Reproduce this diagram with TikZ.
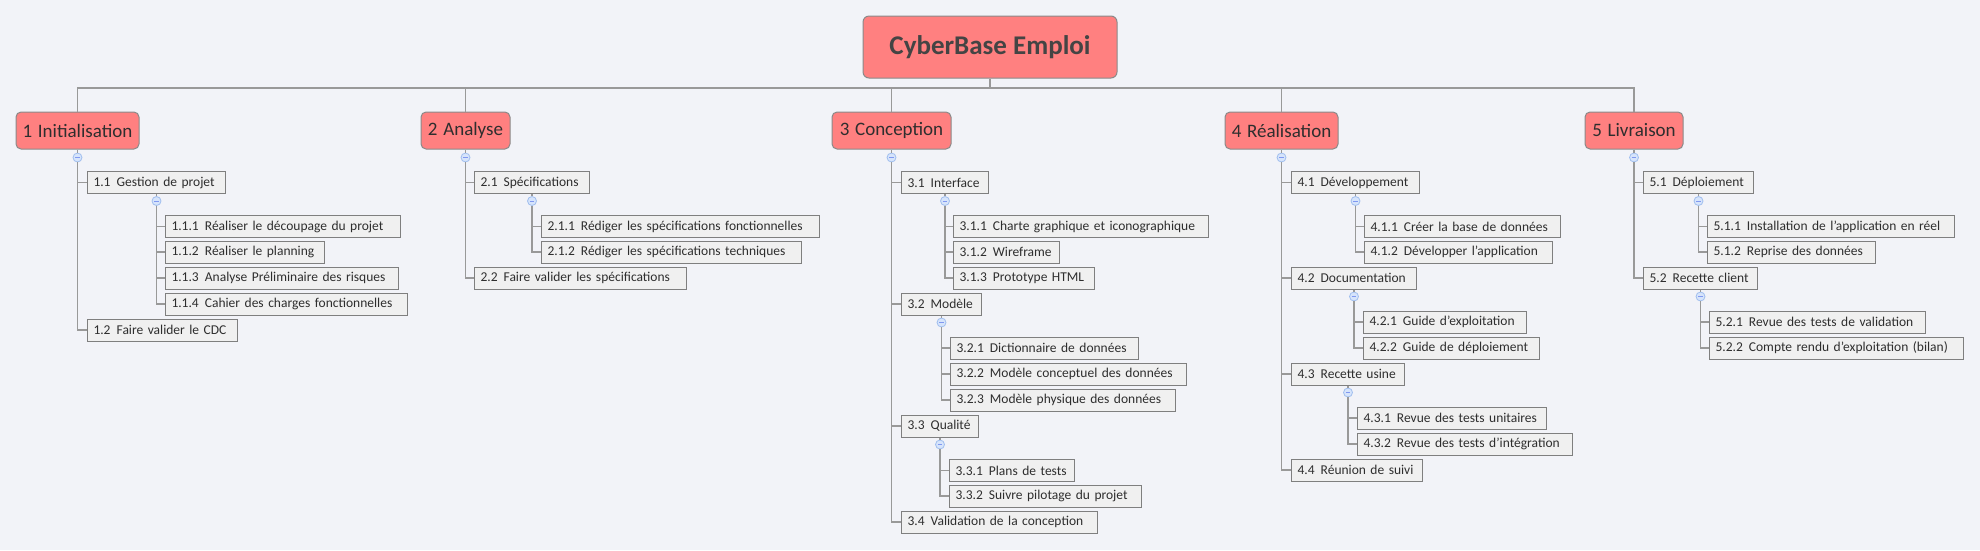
\documentclass[tikz,border=0pt]{standalone}
\usepackage{fontspec}
\setmainfont{Carlito}
\definecolor{bg}{HTML}{F2F3F8}
\definecolor{mainfill}{HTML}{FF8080}
\definecolor{mainborder}{HTML}{8A8A8A}
\definecolor{subfill}{HTML}{F0F0F0}
\definecolor{subborder}{HTML}{7F7F7F}
\definecolor{linec}{HTML}{999999}
\definecolor{txt}{HTML}{2E2E2E}
\definecolor{roottxt}{HTML}{444444}
\definecolor{circfill}{HTML}{D6E4FB}
\definecolor{circdraw}{HTML}{A0BEEE}
\newcommand\numlab[2]{\mbox{#1\hspace{0.45em}#2}}
\tikzset{
  rootbox/.style={draw=mainborder, fill=mainfill, line width=1pt, rounded corners=6pt,
    minimum width=254pt, minimum height=62pt, inner sep=0pt,
    font=\fontsize{27}{30}\selectfont\bfseries, text=roottxt},
  topic/.style={draw=mainborder, fill=mainfill, line width=1pt, rounded corners=5pt,
    minimum width=#1, minimum height=37pt, inner sep=0pt,
    font=\fontsize{19}{22}\selectfont, text=txt},
  sub/.style={draw=subborder, fill=subfill, line width=1pt, anchor=west,
    minimum height=22pt, inner xsep=6pt, inner ysep=0pt, text width=#1, align=left,
    font=\fontsize{13.5}{15}\selectfont, text=txt},
  circ/.style={circle, draw=circdraw, fill=circfill, line width=0.8pt,
    minimum size=9pt, inner sep=0pt},
  minus/.style={draw=circdraw!80!blue, line width=0.8pt},
  conn/.style={draw=linec, line width=1.1pt},
}
\begin{document}
\begin{tikzpicture}[x=1pt,y=-1pt]
\path[use as bounding box, fill=bg] (0,0) rectangle (1980,550);

% root and main topics
\node[rootbox] (root) at (990,47) {CyberBase Emploi};
\coordinate (bus) at (990,88);
\node[topic=123pt] (m1) at (77.5,130.5) {1\hspace{0.3em}Initialisation};
\node[topic=89pt]  (m2) at (465.5,130.5) {2\hspace{0.3em}Analyse};
\node[topic=119pt] (m3) at (891.5,130.5) {3\hspace{0.3em}Conception};
\node[topic=113pt] (m4) at (1281.5,130.5) {4\hspace{0.3em}Réalisation};
\node[topic=98pt]  (m5) at (1634,130.5) {5\hspace{0.3em}Livraison};

% group 1
\node[sub=126] (n11) at (87,182.5) {\numlab{1.1}{Gestion de projet}};
\node[sub=223] (n111) at (165,226.5) {\numlab{1.1.1}{Réaliser le découpage du projet}};
\node[sub=147] (n112) at (165,252) {\numlab{1.1.2}{Réaliser le planning}};
\node[sub=221] (n113) at (165,278) {\numlab{1.1.3}{Analyse Préliminaire des risques}};
\node[sub=230] (n114) at (165,304) {\numlab{1.1.4}{Cahier des charges fonctionnelles}};
\node[sub=138] (n12) at (87,330) {\numlab{1.2}{Faire valider le CDC}};

% group 2
\node[sub=103] (n21) at (474,182.5) {\numlab{2.1}{Spécifications}};
\node[sub=266] (n211) at (541,226.5) {\numlab{2.1.1}{Rédiger les spécifications fonctionnelles}};
\node[sub=248] (n212) at (541,252) {\numlab{2.1.2}{Rédiger les spécifications techniques}};
\node[sub=200] (n22) at (474,278) {\numlab{2.2}{Faire valider les spécifications}};

% group 3
\node[sub=75]  (n31) at (901,182.5) {\numlab{3.1}{Interface}};
\node[sub=243] (n311) at (953,226.5) {\numlab{3.1.1}{Charte graphique et iconographique}};
\node[sub=94]  (n312) at (953,252) {\numlab{3.1.2}{Wireframe}};
\node[sub=129] (n313) at (953,278) {\numlab{3.1.3}{Prototype HTML}};
\node[sub=68]  (n32) at (901,304) {\numlab{3.2}{Modèle}};
\node[sub=176] (n321) at (950,348) {\numlab{3.2.1}{Dictionnaire de données}};
\node[sub=224] (n322) at (950,374) {\numlab{3.2.2}{Modèle conceptuel des données}};
\node[sub=213] (n323) at (950,400) {\numlab{3.2.3}{Modèle physique des données}};
\node[sub=65]  (n33) at (901,426) {\numlab{3.3}{Qualité}};
\node[sub=113] (n331) at (949,470.5) {\numlab{3.3.1}{Plans de tests}};
\node[sub=180] (n332) at (949,496) {\numlab{3.3.2}{Suivre pilotage du projet}};
\node[sub=184] (n34) at (901,522) {\numlab{3.4}{Validation de la conception}};

% group 4
\node[sub=116] (n41) at (1291,182.5) {\numlab{4.1}{Développement}};
\node[sub=184] (n411) at (1364,226.5) {\numlab{4.1.1}{Créer la base de données}};
\node[sub=176] (n412) at (1364,252) {\numlab{4.1.2}{Développer l'application}};
\node[sub=113] (n42) at (1291,278) {\numlab{4.2}{Documentation}};
\node[sub=151] (n421) at (1363,322) {\numlab{4.2.1}{Guide d'exploitation}};
\node[sub=164] (n422) at (1363,348) {\numlab{4.2.2}{Guide de déploiement}};
\node[sub=101] (n43) at (1291,374) {\numlab{4.3}{Recette usine}};
\node[sub=177] (n431) at (1357,418) {\numlab{4.3.1}{Revue des tests unitaires}};
\node[sub=203] (n432) at (1357,444) {\numlab{4.3.2}{Revue des tests d'intégration}};
\node[sub=119] (n44) at (1291,470) {\numlab{4.4}{Réunion de suivi}};

% group 5
\node[sub=98]  (n51) at (1643,182.5) {\numlab{5.1}{Déploiement}};
\node[sub=235] (n511) at (1707,226.5) {\numlab{5.1.1}{Installation de l'application en réel}};
\node[sub=156] (n512) at (1707,252) {\numlab{5.1.2}{Reprise des données}};
\node[sub=102] (n52) at (1643,278) {\numlab{5.2}{Recette client}};
\node[sub=204] (n521) at (1709,322) {\numlab{5.2.1}{Revue des tests de validation}};
\node[sub=242] (n522) at (1709,348) {\numlab{5.2.2}{Compte rendu d'exploitation (bilan)}};

% collapse circles
\foreach \m in {m1,m2,m3,m4,m5}
  \node[circ] (c\m) at ([yshift=-8pt]\m.south) {};
\foreach \p in {n11,n21,n31,n32,n33,n41,n42,n43,n51,n52}
  \node[circ] (c\p) at ([yshift=-7pt]\p.south) {};

% bus
\draw[conn] (root.south) -- (bus);
\draw[conn] (m1.north) |- (bus) -| (m5.north);
\foreach \m in {m2,m3,m4}
  \draw[conn] (\m.north) -- (\m.north |- bus);

% stems
\foreach \p/\kids in {m1/{n11,n12}, m2/{n21,n22}, m3/{n31,n32,n33,n34},
    m4/{n41,n42,n43,n44}, m5/{n51,n52},
    n11/{n111,n112,n113,n114}, n21/{n211,n212},
    n31/{n311,n312,n313}, n32/{n321,n322,n323}, n33/{n331,n332},
    n41/{n411,n412}, n42/{n421,n422}, n43/{n431,n432},
    n51/{n511,n512}, n52/{n521,n522}}{
  \draw[conn] (\p.south) -- (c\p.north);
  \foreach \k in \kids
    \draw[conn] (c\p.south) |- (\k.west);
}

% minus signs
\foreach \c in {cm1,cm2,cm3,cm4,cm5,cn11,cn21,cn31,cn32,cn33,cn41,cn42,cn43,cn51,cn52}
  \draw[minus] ([xshift=-2.3pt]\c.center) -- ([xshift=2.3pt]\c.center);
\end{tikzpicture}
\end{document}
